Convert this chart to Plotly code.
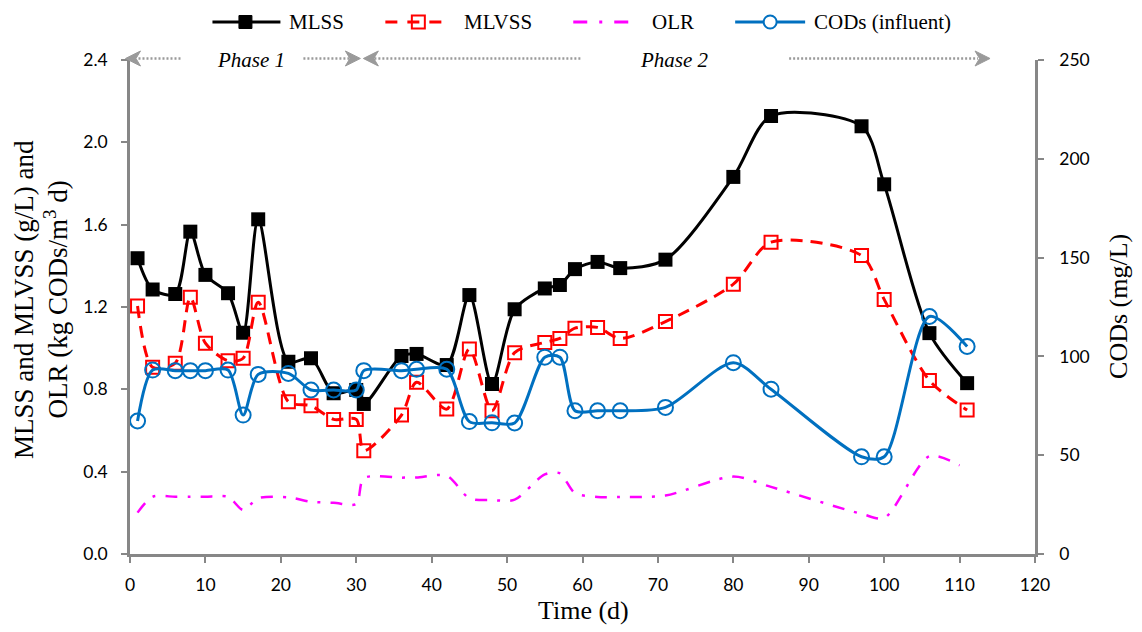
import plotly.graph_objects as go

days = [1, 3, 6, 8, 10, 13, 15, 17, 21, 24, 27, 30, 31, 36, 38, 42, 45, 48, 51,
        55, 57, 59, 62, 65, 71, 80, 85, 97, 100, 106, 111]
mlss = [1.437, 1.285, 1.263, 1.566, 1.356, 1.267, 1.075, 1.626, 0.934, 0.951, 0.781, 0.797, 0.729,
        0.962, 0.972, 0.918, 1.258, 0.826, 1.189, 1.290, 1.307, 1.384, 1.419, 1.389, 1.430,
        1.832, 2.128, 2.078, 1.796, 1.073, 0.830]
mlvss = [1.205, 0.907, 0.927, 1.247, 1.024, 0.939, 0.951, 1.223, 0.740, 0.720, 0.654, 0.654, 0.502,
         0.675, 0.834, 0.704, 0.996, 0.696, 0.978, 1.028, 1.047, 1.097, 1.101, 1.047, 1.129,
         1.311, 1.515, 1.450, 1.237, 0.843, 0.699]
cod = [67.3, 93.1, 92.8, 92.8, 92.8, 93.1, 70.3, 90.9, 91.4, 83.0, 83.0, 83.0, 92.8, 92.8, 93.5,
       93.5, 67.0, 66.4, 66.3, 99.6, 99.6, 72.5, 72.5, 72.5, 74.2, 96.8, 83.4, 49.2, 49.2, 120.2, 105.0]
olr_days = [1, 3, 6, 8, 10, 13, 15, 17, 21, 24, 27, 30, 31, 36, 38, 42, 45, 48, 51,
            55, 57, 59, 62, 65, 71, 80, 85, 97, 100, 106, 110]
olr = [0.201, 0.278, 0.278, 0.278, 0.278, 0.278, 0.214, 0.271, 0.275, 0.254, 0.249, 0.243, 0.368,
       0.371, 0.372, 0.380, 0.271, 0.262, 0.264, 0.387, 0.392, 0.296, 0.277, 0.277, 0.284,
       0.376, 0.326, 0.195, 0.175, 0.475, 0.431]

legend_names = ["MLSS", "MLVSS", "OLR", "CODs (influent)"]
x_ticks = list(range(0, 121, 10))
y_ticks = [0, 0.4, 0.8, 1.2, 1.6, 2.0, 2.4]
y2_ticks = [0, 50, 100, 150, 200, 250]

SERIF = "Liberation Serif, Times New Roman, serif"
SANS = "Lato, Carlito, Calibri, sans-serif"
GRAY = "#878787"
ARROW_GRAY = "#9a9a9a"
BLACK, RED, MAGENTA, BLUE = "black", "#FF0000", "#FF00FF", "#0070C0"

W, H = 1142, 632
L, R, T, B = 129.5, 1035.0, 60.0, 554.0
PW, PH = R - L, B - T


def px(x):
    return (x - L) / PW


def py(y):
    return (B - y) / PH


fig = go.Figure()
fig.add_trace(go.Scatter(x=days, y=mlss, name=legend_names[0], mode="lines+markers",
                         line=dict(color=BLACK, width=3, shape="spline", smoothing=0.8),
                         marker=dict(symbol="square", size=14, color=BLACK)))
fig.add_trace(go.Scatter(x=days, y=mlvss, name=legend_names[1], mode="lines+markers",
                         line=dict(color=RED, width=3, dash="12px,8px", shape="spline", smoothing=0.8),
                         marker=dict(symbol="square-open", size=13, color=RED, line=dict(width=2))))
fig.add_trace(go.Scatter(x=olr_days, y=olr, name=legend_names[2], mode="lines",
                         line=dict(color=MAGENTA, width=2.5, dash="12px,10px,3px,10px",
                                   shape="spline", smoothing=0.8)))
fig.add_trace(go.Scatter(x=days, y=cod, name=legend_names[3], mode="lines+markers", yaxis="y2",
                         line=dict(color=BLUE, width=3, shape="spline", smoothing=0.8),
                         marker=dict(symbol="circle-open", size=15, color=BLUE, line=dict(width=2))))

shapes = []
annos = []

# phase dotted lines (pixel positions converted to paper)
AY = 58.5
ya = py(AY)
for x0, x1 in [(138, 182), (303, 350), (374, 581), (789, 978)]:
    shapes.append(dict(type="line", xref="paper", yref="paper", x0=px(x0), x1=px(x1), y0=ya, y1=ya,
                       line=dict(color=ARROW_GRAY, width=2.5, dash="2px,2px"), layer="above"))
# chevron arrowheads: (tip x, direction)
for tip, d in [(125, -1), (360, 1), (363, -1), (990, 1)]:
    pts = [(tip, AY), (tip - d * 15, AY - 7.5), (tip - d * 10.5, AY), (tip - d * 15, AY + 7.5)]
    path = "M " + " L ".join(f"{px(a):.5f},{py(b):.5f}" for a, b in pts) + " Z"
    shapes.append(dict(type="path", xref="paper", yref="paper", path=path,
                       fillcolor=ARROW_GRAY, line=dict(color=ARROW_GRAY, width=1), layer="above"))
annos.append(dict(x=px(250.5), y=py(60), xref="paper", yref="paper", text="<i>Phase 1</i>",
                  xanchor="center", yanchor="middle",
                  showarrow=False, font=dict(family=SERIF, size=21, color="black")))
annos.append(dict(x=px(674.5), y=py(60), xref="paper", yref="paper", text="<i>Phase 2</i>",
                  xanchor="center", yanchor="middle",
                  showarrow=False, font=dict(family=SERIF, size=21, color="black")))

# custom legend
LY = 22
ly = py(LY)
legend_items = [
    dict(x0=212, x1=280, color=BLACK, dash="solid", width=3, mk="sq_fill", mx=245, tx=287),
    dict(x0=385, x1=445, color=RED, dash="12px,10px", width=3, mk="sq_open", mx=418, tx=462),
    dict(x0=573, x1=637, color=MAGENTA, dash="14px,12px,3px,12px", width=3, mk=None, mx=None, tx=650),
    dict(x0=735, x1=805, color=BLUE, dash="solid", width=3, mk="circ", mx=770, tx=812),
]
for name, it in zip(legend_names, legend_items):
    shapes.append(dict(type="line", xref="paper", yref="paper", x0=px(it["x0"]), x1=px(it["x1"]),
                       y0=ly, y1=ly, line=dict(color=it["color"], width=it["width"], dash=it["dash"])))
    if it["mk"]:
        s = 6.5
        common = dict(xref="paper", yref="paper", x0=px(it["mx"] - s), x1=px(it["mx"] + s),
                      y0=py(LY + s), y1=py(LY - s))
        if it["mk"] == "sq_fill":
            shapes.append(dict(type="rect", fillcolor=BLACK, line=dict(color=BLACK, width=1), **common))
        elif it["mk"] == "sq_open":
            shapes.append(dict(type="rect", fillcolor="rgba(0,0,0,0)", line=dict(color=RED, width=2), **common))
        else:
            shapes.append(dict(type="circle", fillcolor="white", line=dict(color=BLUE, width=2), **common))
    annos.append(dict(x=px(it["tx"]), y=ly, xref="paper", yref="paper", text=name, showarrow=False,
                      xanchor="left", yanchor="middle", font=dict(family=SERIF, size=21, color="black")))

# axis titles
annos.append(dict(x=px(23.5), y=py(300), xref="paper", yref="paper", textangle=-90,
                  text="MLSS and MLVSS (g/L) and", showarrow=False,
                  xanchor="center", yanchor="middle", font=dict(family=SERIF, size=27, color="black")))
annos.append(dict(x=px(55), y=py(300), xref="paper", yref="paper", textangle=-90,
                  text="OLR (kg CODs/m<sup>3</sup> d)", showarrow=False,
                  xanchor="center", yanchor="middle", font=dict(family=SERIF, size=27, color="black")))
annos.append(dict(x=px(1118), y=py(306), xref="paper", yref="paper", textangle=-90,
                  text="CODs (mg/L)", showarrow=False, xanchor="center", yanchor="middle",
                  font=dict(family=SERIF, size=26, color="black")))
annos.append(dict(x=px(583), y=py(610), xref="paper", yref="paper",
                  text="Time (d)", showarrow=False, xanchor="center", yanchor="middle",
                  font=dict(family=SERIF, size=26, color="black")))

axis_common = dict(showline=True, linecolor=GRAY, linewidth=2.5, ticks="outside", tickcolor=GRAY,
                   tickwidth=2, ticklen=6, showgrid=False, zeroline=False,
                   tickfont=dict(family=SANS, size=17.5, color="black"))

fig.update_layout(
    width=W, height=H,
    margin=dict(l=L, r=W - R, t=T, b=H - B, autoexpand=False),
    plot_bgcolor="white", paper_bgcolor="white",
    font=dict(family=SERIF, size=17, color="black"),
    showlegend=False,
    xaxis=dict(range=[0, 120], tickvals=x_ticks, ticklabelstandoff=7, **axis_common),
    yaxis=dict(range=[0, 2.4], tickvals=y_ticks, tickformat=".1f", ticklabelstandoff=10, **axis_common),
    yaxis2=dict(range=[0, 250], tickvals=y2_ticks, overlaying="y", side="right",
                ticklabelstandoff=12, **axis_common),
    shapes=shapes, annotations=annos,
)

fig.write_html("out.html")
